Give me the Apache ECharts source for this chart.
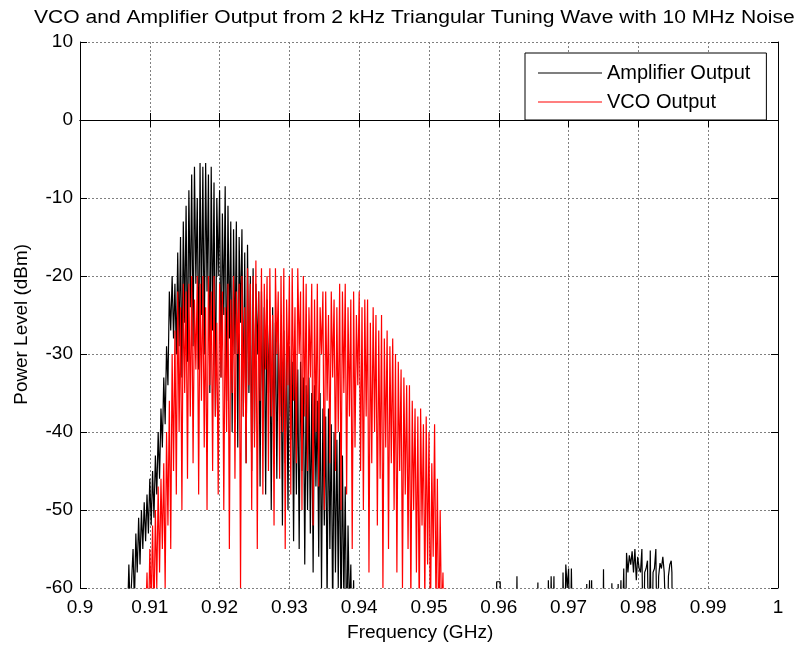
<!DOCTYPE html>
<html>
<head>
<meta charset="utf-8">
<script src="https://cdn.jsdelivr.net/npm/echarts@6/dist/echarts.min.js"></script>
<style>html,body{margin:0;padding:0;background:#fff}#c{width:803px;height:650px}</style>
</head>
<body>
<div id="c"></div>
<script>
// ---- data ----
const titleText = 'VCO and Amplifier Output from 2 kHz Triangular Tuning Wave with 10 MHz Noise';
const xTicks = [0.9, 0.91, 0.92, 0.93, 0.94, 0.95, 0.96, 0.97, 0.98, 0.99, 1];
const yTicks = [-60, -50, -40, -30, -20, -10, 0, 10];

// Amplifier output, main band: frequency grid start/step (GHz)
const ampStart = 0.9060, ampStep = 0.0002;
const ampMain = [
  -75,-72,-66,-60,-64,   -57,-63,-59,-55,-62,   -53,-58,-51,-57,-50,   -55,-49,-54,-48,-53,
  -46,-52,-45,-51,-43,   -48,-40,-46,-37,-42,   -33,-39,-29,-34,-22,   -27,-20,-28,-21,-30,
  -17,-29,-15,-33,-13,   -26,-11,-31,-9,-24,    -7,-29,-6,-21,-10,     -32,-5.5,-25,-6,-30,
  -5.5,-22,-7,-35,-6,    -27,-8,-38,-10,-20,    -9,-33,-12,-25,-8.5,   -36,-11,-28,-13,-40,
  -14,-30,-13,-42,-15,   -26,-14,-38,-17,-44,   -16,-35,-20,-45,-19,   -40,-21,-30,-22,-47,
  -22,-38,-24,-48,-23,   -35,-25,-50,-24,-42,   -26,-46,-27,-38,-28,   -52,-27,-44,-29,-50,
  -29,-41,-31,-54,-30,   -48,-32,-55,-31,-45,   -33,-57,-34,-50,-33,   -53,-35,-58,-34,-47,
  -36,-56,-35,-60,-37,   -52,-38,-62,-37,-55,   -39,-64,-40,-58,-41,   -60,-40,-66,-43,-62,
  -47,-68,-52,-63,-57,   -70,-59,-72,-75,-78,   -80
];
// Amplifier output, small spurs at high frequency
const ampTailFreq = [
  0.9596,0.9597,0.9602,0.9603, 0.9625,0.9626,0.9627, 0.9655,0.9656,0.9657,
  0.9670,0.9671,0.9673,0.9675,0.9677,0.9679,0.9680,
  0.9691,0.9692,0.9694,0.9696,0.9698,0.9700,0.9702,0.9704,0.9706,
  0.9725,0.9726,0.9728,0.9730,0.9731,0.9733,0.9734,
  0.9749,0.9750,0.9751, 0.9761,0.9762,0.9763,
  0.9770,0.9771,0.9772,0.9775,0.9776,
  0.9778,0.9779,0.9781,0.9783,0.9785,0.9787,0.9789,0.9791,0.9793,0.9795,0.9797,0.9799,
  0.9801,0.9803,0.9805,0.9807,0.9809,0.9811,0.9813,0.9815,0.9817,0.9819,
  0.9821,0.9823,0.9825,0.9827,0.9829,0.9831,0.9833,0.9835,0.9837,0.9839,
  0.9841,0.9843,0.9845,0.9847,0.9848,0.9849,0.9860
];
const ampTailLevel = [
  -70,-59.2,-59.2,-70, -70,-58.5,-70, -70,-59.3,-70,
  -70,-59,-70,-58.5,-70,-58.5,-70,
  -70,-58,-70,-57,-60,-57.5,-70,-57.5,-70,
  -70,-59.5,-70,-59,-70,-59,-70,
  -70,-57.6,-70, -70,-59.4,-70,
  -70,-59.5,-70,-59,-70,
  -70,-57.5,-70,-55.5,-58,-55.8,-57,-55.3,-58,-55,-59,-56,
  -57.5,-58,-55,-70,-58,-57.5,-56.5,-70,-55.2,-70,
  -58,-57.5,-55,-70,-58.5,-56.8,-57.5,-56,-58,-57.8,
  -70,-58.5,-57,-56.5,-58,-70,-70
];

// VCO output: frequency grid start/step (GHz)
const vcoStart = 0.9080, vcoStep = 0.0002;
const vcoLevel = [
  -75,-70,-66,-72,-63,   -68,-60,-65,-58,-66,   -55,-62,-52,-64,-50,   -60,-47,-58,-46,-55,
  -44,-60,-40,-52,-36,   -55,-30,-45,-27,-48,   -22,-40,-24,-50,-21,   -35,-22,-46,-21,-38,
  -20,-44,-23,-32,-20,   -48,-21,-36,-20,-42,   -24,-50,-20,-34,-22,   -45,-20,-38,-26,-48,
  -21,-33,-22,-50,-24,   -40,-21,-55,-23,-35,   -20,-46,-22,-30,-21,   -60,-20,-38,-24,-44,
  -19,-34,-21,-50,-20,   -42,-18,-55,-22,-36,   -19,-48,-21,-32,-20,   -45,-19,-38,-25,-52,
  -19,-30,-22,-46,-20,   -40,-19,-55,-23,-34,   -20,-48,-19,-36,-24,   -44,-19,-30,-22,-50,
  -20,-38,-21,-45,-24,   -33,-21,-52,-23,-40,   -21,-47,-24,-30,-22,   -50,-22,-36,-25,-44,
  -22,-33,-23,-45,-24,   -40,-21,-50,-22,-35,   -21,-48,-24,-38,-23,   -55,-22,-42,-25,-34,
  -22,-45,-24,-50,-23,   -38,-23,-58,-26,-44,   -24,-40,-25,-52,-27,   -46,-25,-60,-28,-42,
  -27,-55,-29,-44,-28,   -50,-30,-58,-31,-45,   -32,-60,-33,-48,-34,   -55,-34,-62,-36,-50,
  -37,-58,-38,-64,-37,   -52,-39,-62,-38,-57,   -40,-66,-44,-56,-39,   -63,-46,-68,-50,-65,
  -58,-72,-60,-75,-78,   -80
];

// ---- build series data ----
const r4 = v => Math.round(v * 10000) / 10000;
const ampData = ampMain.map((v, i) => [r4(ampStart + i * ampStep), v])
  .concat(ampTailFreq.map((f, i) => [f, ampTailLevel[i]]));
const vcoData = vcoLevel.map((v, i) => [r4(vcoStart + i * vcoStep), v]);

const FONT = 'Liberation Sans, Arial, sans-serif';
const chart = echarts.init(document.getElementById('c'), null, {renderer: 'canvas'});
const axCommon = {
  axisLine: {show: true, lineStyle: {color: '#000', width: 1}},
  axisTick: {show: true, inside: true, length: 7, lineStyle: {color: '#000'}},
};
chart.setOption({
  animation: false,
  backgroundColor: '#fff',
  grid: {left: 80, right: 25, top: 42, bottom: 62, show: false},
  xAxis: [
    Object.assign({
      type: 'value', position: 'bottom', min: xTicks[0], max: xTicks[xTicks.length - 1], interval: 0.01,
      axisLabel: {fontFamily: FONT, fontSize: 19, color: '#000', margin: 10,
        formatter: v => String(Math.round(v * 100) / 100)},
      splitLine: {show: true, lineStyle: {color: '#808080', type: [2, 2], width: 1}}
    }, axCommon),
    Object.assign({
      type: 'value', position: 'top', min: xTicks[0], max: xTicks[xTicks.length - 1], interval: 0.01,
      axisLabel: {show: false}, splitLine: {show: false}
    }, axCommon)
  ],
  yAxis: [
    Object.assign({
      type: 'value', position: 'left', min: yTicks[0], max: yTicks[yTicks.length - 1], interval: 10,
      axisLabel: {fontFamily: FONT, fontSize: 19, color: '#000', margin: 7},
      splitLine: {show: true, lineStyle: {color: '#808080', type: [2, 2], width: 1}}
    }, axCommon),
    Object.assign({
      type: 'value', position: 'right', min: yTicks[0], max: yTicks[yTicks.length - 1], interval: 10,
      axisLabel: {show: false}, splitLine: {show: false}
    }, axCommon)
  ],
  legend: {
    orient: 'vertical', left: 525, top: 53, z: 20,
    padding: [10, 16, 8, 13], itemGap: 9, itemWidth: 64, itemHeight: 12,
    icon: 'path://M0,5.5H64V6.5H0Z',
    backgroundColor: '#fff', borderColor: '#000', borderWidth: 1,
    textStyle: {fontFamily: FONT, fontSize: 20, color: '#000', lineHeight: 20},
    data: ['Amplifier Output', 'VCO Output']
  },
  graphic: [
    {type: 'text', left: 34, top: 9, z: 10, scaleX: 1.17,
      style: {text: titleText, font: '18px ' + FONT, fill: '#000'}},
    {type: 'text', left: 347, top: 624, z: 10, scaleX: 1.06,
      style: {text: 'Frequency (GHz)', font: '18px ' + FONT, fill: '#000'}},
    {type: 'text', left: 13, top: 244, rotation: Math.PI / 2, z: 10, scaleX: 1.05,
      style: {text: 'Power Level (dBm)', font: '18px ' + FONT, fill: '#000'}}
  ],
  series: [
    {name: 'Amplifier Output', type: 'line', data: ampData, symbol: 'none', showSymbol: false,
      xAxisIndex: 0, yAxisIndex: 0, clip: true,
      lineStyle: {color: '#000', width: 1.2}, itemStyle: {color: '#000'}},
    {name: 'VCO Output', type: 'line', data: vcoData, symbol: 'none', showSymbol: false,
      xAxisIndex: 0, yAxisIndex: 0, clip: true,
      lineStyle: {color: '#ff0000', width: 1.2}, itemStyle: {color: '#ff0000'}}
  ]
});
</script>
</body>
</html>
